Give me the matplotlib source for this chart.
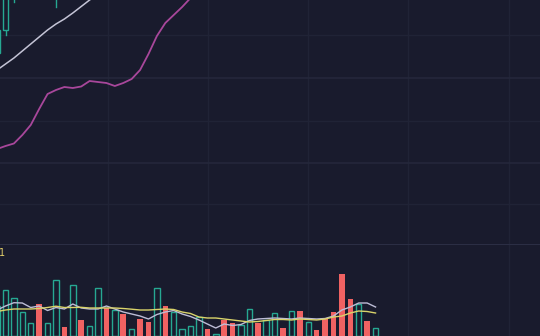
import matplotlib
matplotlib.use("Agg")
import matplotlib.pyplot as plt
from matplotlib.patches import Rectangle

BG = "#191b2d"
GRID = "#202336"
TEAL = "#26a892"
RED = "#f06262"

# ---- volume panel data (one bar per session index) ----
vol_idx = list(range(46))
volume = [30, 46, 38, 24, 13, 32, 13, 56, 9, 51, 16, 10, 48, 28, 26, 22, 7, 17, 14, 48,
          30, 24, 7, 10, 19, 7.5, 2.5, 16, 13, 11, 27, 13, 16, 23.5, 8, 25, 25, 14, 6, 17,
          24, 62, 37, 32, 15, 8]
up = [1, 1, 1, 1, 1, 0, 1, 1, 0, 1, 0, 1, 1, 0, 1, 0, 1, 0, 0, 1,
      0, 1, 1, 1, 1, 0, 1, 0, 0, 1, 1, 0, 1, 1, 0, 1, 0, 1, 0, 0,
      0, 0, 0, 1, 0, 1]
vol_ma5 = [26, 30, 33.3, 33, 28.5, 30, 25.5, 28.5, 27, 32, 28, 27, 27, 30, 27, 24, 22, 20, 17, 21.5,
           24, 25.5, 22, 19.5, 16, 12, 8, 12, 10.5, 11.5, 15.5, 17, 17.5, 18, 17.5, 17, 18, 17.5, 17, 17.5,
           20, 26, 29, 33, 33, 29]
vol_ma10 = [24.5, 26, 27, 27, 27, 27.5, 28.5, 29.8, 28.5, 28.5, 28.7, 28, 28, 28, 28, 27.5, 26.8, 26, 26, 26.5,
            27, 26.5, 24, 22.5, 19, 18, 18, 17, 16, 15, 14, 14.5, 15.5, 16.5, 16.5, 16, 17, 16.5, 16, 17,
            19, 20, 23, 25, 24.5, 23]

# ---- price panel data ----
ma_long_idx = list(range(25))
ma_long = [96, 99, 101.5, 110, 120, 136, 151, 155, 158, 157, 158.5, 164, 163, 162, 159, 162, 166, 175,
           191, 209, 222, 230, 238, 247, 257]
ma_short_idx = list(range(13))
ma_short = [175, 181, 187, 194, 201, 208, 215, 221, 226, 232, 238.5, 245, 251]

candle_idx = list(range(11))
c_open = [192, 215, 250, 262, 270, 290, 275, 262, 290, 280, 300]
c_close = [215, 262, 270, 275, 288, 272, 292, 285, 276, 302, 288]
c_high = [230, 272, 280, 285, 298, 296, 300, 295, 296, 310, 306]
c_low = [188, 210, 243, 256, 264, 268, 270, 238, 270, 274, 282]
c_up = [1, 1, 1, 1, 1, 0, 1, 1, 0, 1, 0]

# pixel <-> index mapping helpers for axis limits
STEP = 8.41
X0 = -2.9
def px2i(px):
    return (px - X0) / STEP

W, H = 540, 336
fig = plt.figure(figsize=(W / 100, H / 100), dpi=100, facecolor=BG)
ax1 = fig.add_axes([0, 91 / H, 1, 245 / H])
ax2 = fig.add_axes([0, 0, 1, 91 / H])

for ax in (ax1, ax2):
    ax.set_facecolor(BG)
    ax.set_xlim(px2i(0), px2i(W))
    for s in ax.spines.values():
        s.set_visible(False)
    ax.tick_params(left=False, bottom=False, labelleft=False, labelbottom=False)
    for gx in [108, 207.5, 308, 408, 509]:
        ax.axvline(px2i(gx), color=GRID, lw=1.0, zorder=0)

ax1.set_ylim(0, 245)
ax2.set_ylim(0, 91)

for gy in [35, 121, 204]:
    ax1.axhline(245 - gy, color=GRID, lw=1.0, zorder=0)
for gy in [78, 163]:
    ax1.axhline(245 - gy, color="#24273b", lw=1.2, zorder=0)
ax1.axhline(0.3, color="#2b2e44", lw=1.5, zorder=1)

bw = 5.5 / STEP

# candles
for i, o, c, h, l, u in zip(candle_idx, c_open, c_close, c_high, c_low, c_up):
    col = TEAL if u else RED
    lo, hi = min(o, c), max(o, c)
    ax1.plot([i, i], [l, lo], color=col, lw=1.0, zorder=3)
    ax1.plot([i, i], [hi, h], color=col, lw=1.0, zorder=3)
    if u:
        ax1.add_patch(Rectangle((i - bw / 2, lo), bw, hi - lo, facecolor=BG,
                                edgecolor=col, lw=1.0, zorder=4))
    else:
        ax1.add_patch(Rectangle((i - bw / 2, lo), bw, hi - lo, facecolor=col,
                                edgecolor=col, lw=1.0, zorder=4))

ax1.plot(ma_short_idx, ma_short, color="#c4c4d6", lw=1.1, zorder=5)
ax1.plot(ma_long_idx, ma_long, color="#a8479b", lw=1.3, zorder=5)

# volume bars
for i, v, u in zip(vol_idx, volume, up):
    if u:
        ax2.bar(i, v, width=bw, facecolor="none", edgecolor=TEAL, lw=1.0, zorder=3)
    else:
        ax2.bar(i, v, width=bw, color=RED, lw=0, zorder=3)

ax2.plot(vol_idx, vol_ma5, color="#bdbdd6", lw=1.0, zorder=5)
ax2.plot(vol_idx, vol_ma10, color="#d9d36a", lw=1.0, zorder=5)

ax2.text(px2i(-1.5), 336 - 253, "1", color="#e2cf6a", fontsize=7, ha="left", va="center",
         transform=ax2.transData)

fig.savefig("out.png", dpi=100, facecolor=BG)
